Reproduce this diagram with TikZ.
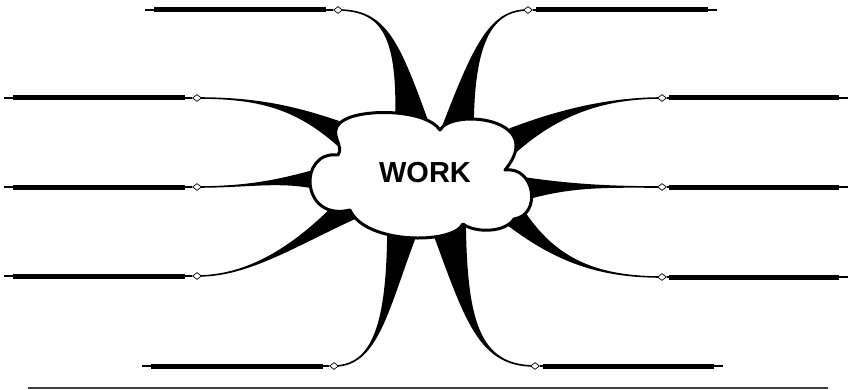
\documentclass[tikz,border=0pt]{standalone}
\usepackage{fontspec}
\setsansfont{Liberation Sans}
\usetikzlibrary{shapes.geometric,backgrounds}

\begin{document}
\begin{tikzpicture}[x=1pt,y=-1pt,
  joint/.style={diamond,draw,fill=white,line width=0.7pt,inner sep=0pt,minimum width=9pt,minimum height=7pt},
  wire/.style={line width=1.7pt},
  bar/.style={line width=5pt,shorten <=9pt},
  branch/.style={fill=black,draw=black,line width=1.6pt,line join=round},
  cloudline/.style={fill=white,draw=black,line width=3pt,line join=round}]
  \useasboundingbox (0,0) rectangle (850,390);

  % Joints
  \node[joint] (tl) at (338,10) {};
  \node[joint] (l1) at (197,98) {};
  \node[joint] (l2) at (197,187) {};
  \node[joint] (l3) at (197,276) {};
  \node[joint] (bl) at (334,366) {};
  \node[joint] (tr) at (528,10) {};
  \node[joint] (r1) at (662,98) {};
  \node[joint] (r2) at (662,187) {};
  \node[joint] (r3) at (662,277) {};
  \node[joint] (br) at (535,366) {};

  % Free ends of the lines
  \coordinate (tl-end) at (145,10);
  \coordinate (l1-end) at (4,98);
  \coordinate (l2-end) at (4,187);
  \coordinate (l3-end) at (4,276);
  \coordinate (bl-end) at (142,366);
  \coordinate (tr-end) at (717,10);
  \coordinate (r1-end) at (848,98);
  \coordinate (r2-end) at (848,187);
  \coordinate (r3-end) at (848,277);
  \coordinate (br-end) at (723,366);

  % Lines
  \foreach \j/\g in {tl/7,l1/7,l2/7,l3/7,bl/6,tr/3,r1/2,r2/2,r3/2,br/3} {
    \draw[wire] (\j-end) -- (\j);
    \draw[bar,shorten >=\g pt] (\j-end) -- (\j);
  }

  % Branches
  \begin{scope}[on background layer]
    \fill[white] (0,0) rectangle (850,390);
    \filldraw[branch] (tl.center) .. controls (385,10) and (398,40) .. (396,122) -- (427,120) .. controls (398,40) and (385,10) .. (tl.center) -- cycle;
    \filldraw[branch] (tr.center) .. controls (490,10) and (474,45) .. (473,124) -- (440,134) .. controls (474,45) and (490,10) .. (tr.center) -- cycle;
    \filldraw[branch] (l1.center) .. controls (255,98) and (295,106) .. (348,125) -- (340,147) .. controls (295,106) and (255,98) .. (l1.center) -- cycle;
    \filldraw[branch] (l2.center) .. controls (250,187) and (280,180) .. (320,169) -- (320,189) .. controls (280,180) and (250,187) .. (l2.center) -- cycle;
    \filldraw[branch] (l3.center) .. controls (250,276) and (295,245) .. (335,205) -- (362,215) .. controls (295,245) and (250,276) .. (l3.center) -- cycle;
    \filldraw[branch] (bl.center) .. controls (378,366) and (387,310) .. (388,232) -- (417,232) .. controls (387,310) and (378,366) .. (bl.center) -- cycle;
    \filldraw[branch] (br.center) .. controls (478,366) and (466,320) .. (465,218) -- (431,226) .. controls (466,320) and (478,366) .. (br.center) -- cycle;
    \filldraw[branch] (r1.center) .. controls (610,98) and (560,110) .. (510,129) -- (510,157) .. controls (560,110) and (610,98) .. (r1.center) -- cycle;
    \filldraw[branch] (r2.center) .. controls (610,187) and (570,185) .. (518,177) -- (520,201) .. controls (570,185) and (610,187) .. (r2.center) -- cycle;
    \filldraw[branch] (r3.center) .. controls (600,277) and (555,262) .. (521,207) -- (502,220) .. controls (555,262) and (600,277) .. (r3.center) -- cycle;
  \end{scope}

  % Cloud
  \filldraw[cloudline] (340,123) .. controls (355,108) and (425,108) .. (440,130)
    .. controls (452,108) and (548,118) .. (505,170)
    .. controls (535,166) and (542,215) .. (514,219)
    .. controls (505,233) and (475,233) .. (463,224)
    .. controls (452,245) and (365,244) .. (350,210)
    .. controls (300,222) and (298,150) .. (338,155)
    .. controls (345,146) and (328,134) .. (340,123) -- cycle;
  \node[font=\sffamily\bfseries\fontsize{29}{29}\selectfont,inner sep=0pt] (work) at (425,173) {WORK};

  % Rule
  \draw[line width=2pt,black!75] (28,388) -- (828,388);
\end{tikzpicture}
\end{document}
